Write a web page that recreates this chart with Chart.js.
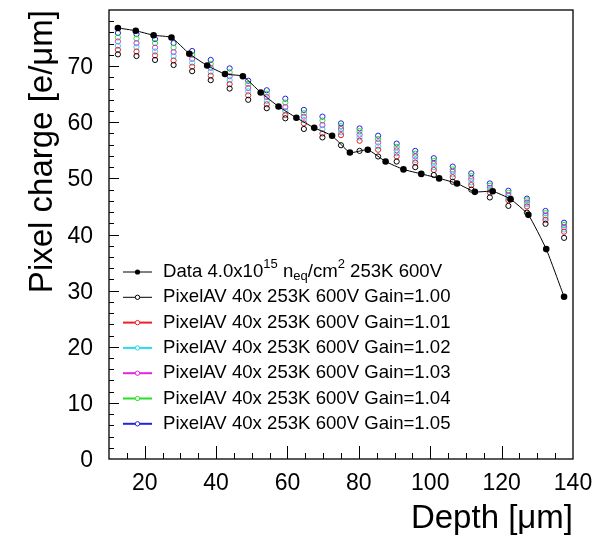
<!DOCTYPE html>
<html>
<head>
<meta charset="utf-8">
<script src="https://cdn.jsdelivr.net/npm/chart.js@4.4.0/dist/chart.umd.min.js"></script>
<style>
body { margin: 0; background: #fff; }
#wrap { width: 603px; height: 540px; }
</style>
</head>
<body>
<div id="wrap"><canvas id="myChart" width="603" height="540"></canvas></div>
<script>
// measured data (black dots)
var depth = [12.5, 17.5, 22.5, 27.5, 32.5, 37.5, 42.5, 47.5, 52.5, 57.5, 62.5, 67.5, 72.5,
             77.5, 82.5, 87.5, 92.5, 97.5, 102.5, 107.5, 112.5, 117.5, 122.5, 127.5, 132.5, 137.5];
var dataCharge = [76.8, 76.3, 75.5, 75.1, 72.2, 70.1, 68.6, 68.2, 65.3, 62.8, 60.8, 59.0, 57.6,
                  54.6, 55.1, 53.0, 51.6, 50.8, 50.0, 49.1, 47.6, 47.7, 46.3, 43.5, 37.4, 28.9];

// PixelAV simulation, one array per gain
var simDepth = [12.5, 17.7, 22.9, 28.1, 33.3, 38.5, 43.8, 49.0, 54.2, 59.4, 64.6, 69.8, 75.0,
                80.2, 85.4, 90.6, 95.8, 101.0, 106.3, 111.5, 116.7, 121.9, 127.1, 132.3, 137.5];
var gain100 = [72.1, 71.8, 71.1, 70.2, 69.1, 67.5, 66.0, 64.0, 62.5, 60.7, 58.8, 57.3, 55.9,
               54.9, 53.9, 53.0, 52.0, 50.6, 49.4, 48.0, 46.6, 45.1, 43.9, 41.9, 39.4];
var gain101 = [72.9, 72.6, 71.9, 71.0, 69.9, 68.3, 66.8, 64.8, 63.2, 61.3, 59.8, 58.0, 57.7,
               56.7, 55.1, 53.9, 52.8, 51.5, 50.2, 48.8, 47.5, 46.1, 45.0, 42.6, 40.5];
var gain102 = [73.6, 73.4, 72.6, 71.8, 70.6, 69.0, 67.5, 65.5, 63.8, 62.0, 60.4, 58.8, 58.2,
               57.3, 55.7, 54.5, 53.3, 52.0, 50.7, 49.3, 47.9, 46.5, 45.4, 43.0, 40.9];
var gain103 = [74.4, 74.1, 73.3, 72.5, 71.3, 69.7, 68.2, 66.1, 64.5, 62.7, 61.0, 59.5, 58.8,
               57.8, 56.4, 55.0, 53.9, 52.6, 51.2, 49.9, 48.3, 47.0, 45.7, 43.4, 41.3];
var gain104 = [75.1, 74.9, 74.1, 73.3, 72.0, 70.4, 68.9, 66.8, 65.1, 63.5, 61.6, 60.3, 59.3,
               58.4, 57.0, 55.6, 54.4, 53.1, 51.6, 50.4, 48.7, 47.4, 46.1, 43.8, 41.7];
var gain105 = [75.9, 75.7, 74.8, 74.1, 72.7, 71.1, 69.6, 67.4, 65.7, 64.2, 62.2, 61.0, 59.8,
               58.9, 57.6, 56.2, 54.9, 53.6, 52.1, 50.9, 49.1, 47.8, 46.4, 44.2, 42.1];

var gainLabels = ['1.00', '1.01', '1.02', '1.03', '1.04', '1.05'];
var gainColors = ['#000000', '#e8222a', '#22dcef', '#e025e0', '#25e025', '#2222e0'];
var simSeries = [gain100, gain101, gain102, gain103, gain104, gain105];

var xTicks = [20, 40, 60, 80, 100, 120, 140];
var yTicks = [0, 10, 20, 30, 40, 50, 60, 70];

var FONT = '"Liberation Sans", Arial, sans-serif';

function toPoints(xs, ys) {
  return xs.map(function (x, i) { return { x: x, y: ys[i] }; });
}

var datasets = [{
  label: 'Data',
  data: toPoints(depth, dataCharge),
  borderColor: '#000',
  backgroundColor: '#000',
  borderWidth: 1,
  pointRadius: 3.3,
  pointBorderWidth: 0,
  tension: 0.15,
  showLine: true
}];
simSeries.forEach(function (s, i) {
  datasets.push({
    label: 'Gain=' + gainLabels[i],
    data: toPoints(simDepth, s),
    borderColor: gainColors[i],
    backgroundColor: 'rgba(0,0,0,0)',
    pointRadius: 2.6,
    pointBorderWidth: 1,
    showLine: false
  });
});

// draw text with ^sup and _sub pieces
function drawRich(ctx, parts, x, y, size) {
  parts.forEach(function (p) {
    var s = p.s || 0;
    var fs = s ? size * 0.7 : size;
    ctx.font = fs + 'px ' + FONT;
    var dy = s > 0 ? -size * 0.42 : (s < 0 ? size * 0.25 : 0);
    ctx.fillText(p.t, x, y + dy);
    x += ctx.measureText(p.t).width;
  });
}

var rootStyle = {
  id: 'rootStyle',
  beforeDatasetsDraw: function (chart) {
    var ctx = chart.ctx, a = chart.chartArea;
    var xs = chart.scales.x, ys = chart.scales.y;
    ctx.save();
    ctx.strokeStyle = '#000';
    ctx.lineWidth = 1;
    // x ticks, inside the frame
    for (var v = 15; v < 140; v += 5) {
      var px = Math.round(xs.getPixelForValue(v)) + 0.5;
      var len = (v % 20 === 0) ? 13 : 6;
      ctx.beginPath(); ctx.moveTo(px, a.bottom); ctx.lineTo(px, a.bottom - len); ctx.stroke();
    }
    // y ticks
    for (var w = 2; w < 80; w += 2) {
      var py = Math.round(ys.getPixelForValue(w)) + 0.5;
      var l2 = (w % 10 === 0) ? 10 : 5;
      ctx.beginPath(); ctx.moveTo(a.left, py); ctx.lineTo(a.left + l2, py); ctx.stroke();
    }
    // frame
    ctx.lineWidth = 1.3;
    ctx.strokeRect(a.left, a.top, a.right - a.left, a.bottom - a.top);

    // tick labels
    ctx.fillStyle = '#000';
    ctx.font = '23px ' + FONT;
    ctx.textAlign = 'center';
    ctx.textBaseline = 'alphabetic';
    xTicks.forEach(function (t) {
      ctx.fillText(String(t), xs.getPixelForValue(t), 490);
    });
    ctx.textAlign = 'right';
    yTicks.forEach(function (t) {
      ctx.fillText(String(t), 93, ys.getPixelForValue(t) + 8);
    });

    // axis titles
    ctx.font = '33px ' + FONT;
    ctx.textAlign = 'right';
    ctx.fillText('Depth [\u03bcm]', a.right, 528);
    ctx.save();
    ctx.translate(52, a.top);
    ctx.rotate(-Math.PI / 2);
    ctx.textAlign = 'right';
    ctx.fillText('Pixel charge [e/\u03bcm]', 0, 0);
    ctx.restore();
    ctx.restore();
  },
  afterDatasetsDraw: function (chart) {
    var ctx = chart.ctx;
    ctx.save();
    ctx.fillStyle = '#000';
    ctx.textAlign = 'left';
    ctx.textBaseline = 'middle';
    var rowY = 272, step = 25.3, fs = 18.6;
    // data entry
    ctx.strokeStyle = '#000';
    ctx.lineWidth = 1;
    ctx.beginPath(); ctx.moveTo(123, rowY); ctx.lineTo(152, rowY); ctx.stroke();
    ctx.beginPath(); ctx.arc(137.5, rowY, 2.6, 0, Math.PI * 2); ctx.fill();
    drawRich(ctx, [
      { t: 'Data 4.0x10' }, { t: '15', s: 1 }, { t: ' n' }, { t: 'eq', s: -1 },
      { t: '/cm' }, { t: '2', s: 1 }, { t: ' 253K 600V' }
    ], 163, rowY, fs);
    // simulation entries
    gainLabels.forEach(function (g, i) {
      var y = rowY + step * (i + 1);
      ctx.strokeStyle = gainColors[i];
      ctx.lineWidth = i === 0 ? 1 : 2;
      ctx.beginPath(); ctx.moveTo(123, y); ctx.lineTo(152, y); ctx.stroke();
      ctx.lineWidth = 1;
      ctx.fillStyle = '#fff';
      ctx.beginPath(); ctx.arc(137.5, y, 2.2, 0, Math.PI * 2); ctx.fill(); ctx.stroke();
      ctx.fillStyle = '#000';
      ctx.font = fs + 'px ' + FONT;
      ctx.fillText('PixelAV 40x 253K 600V Gain=' + g, 163, y);
    });
    ctx.restore();
  }
};

var ctx = document.getElementById('myChart').getContext('2d');
var myChart = new Chart(ctx, {
  type: 'line',
  data: { datasets: datasets },
  options: {
    responsive: false,
    animation: false,
    layout: { padding: { left: 109, right: 30, top: 10, bottom: 81 } },
    plugins: { legend: { display: false }, tooltip: { enabled: false } },
    scales: {
      x: { type: 'linear', min: 10, max: 140, display: false },
      y: { type: 'linear', min: 0, max: 80, display: false }
    }
  },
  plugins: [rootStyle]
});
</script>
</body>
</html>
